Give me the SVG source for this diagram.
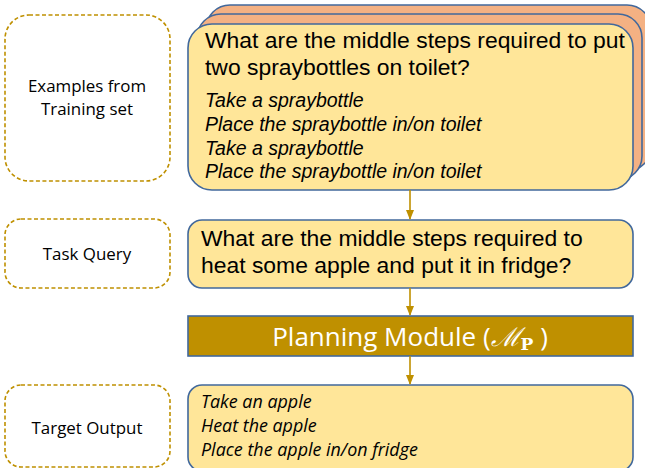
<svg xmlns="http://www.w3.org/2000/svg" width="645" height="468" viewBox="0 0 645 468">
<style>
.lbl{fill:none;stroke:#BF9000;stroke-width:1.6;stroke-dasharray:4 2.5}
.lt{font-family:"Open Sans","Noto Sans",sans-serif;font-size:16.9px;fill:#000;text-anchor:middle}
.box{fill:#FFE699;stroke:#41689C;stroke-width:1.6}
.back{fill:#F4B183;stroke:#41689C;stroke-width:1.6}
.q{font-family:"Liberation Sans",Arial,sans-serif;font-size:22.9px;fill:#000}
.it{font-family:"Liberation Sans",Arial,sans-serif;font-size:19.5px;font-style:italic;fill:#000}
.ci{font-family:"Open Sans","Noto Sans",sans-serif;font-size:17.9px;font-style:italic;fill:#000}
.conn{stroke:#BF9000;stroke-width:1.6;fill:none}
</style>
<defs>
<marker id="ah" markerWidth="10" markerHeight="8" refX="9" refY="4" orient="auto" markerUnits="userSpaceOnUse">
<path d="M0,0 L10,4 L0,8 Z" fill="#BF9000"/>
</marker>
</defs>
<g id="label-examples">
<rect class="lbl" x="5" y="15" width="165" height="166" rx="24"/>
<text class="lt" x="87" y="92">Examples from</text>
<text class="lt" x="87" y="115">Training set</text>
</g>
<g id="label-task">
<rect class="lbl" x="5" y="219" width="165" height="69" rx="16"/>
<text class="lt" x="87" y="260">Task Query</text>
</g>
<g id="label-target">
<rect class="lbl" x="5" y="385" width="165" height="82" rx="16"/>
<text class="lt" x="87" y="434">Target Output</text>
</g>
<g id="examples">
<rect class="back" x="206" y="5" width="445" height="166" rx="24"/>
<rect class="back" x="197" y="14" width="445" height="166" rx="24"/>
<rect class="box" x="188" y="24" width="445" height="166" rx="24"/>
<text class="q" x="205" y="48">What are the middle steps required to put</text>
<text class="q" x="205" y="75">two spraybottles on toilet?</text>
<text class="it" x="205" y="107">Take a spraybottle</text>
<text class="it" x="205" y="131">Place the spraybottle in/on toilet</text>
<text class="it" x="205" y="155">Take a spraybottle</text>
<text class="it" x="205" y="178">Place the spraybottle in/on toilet</text>
</g>
<g id="task">
<rect class="box" x="188" y="220" width="445" height="68" rx="14"/>
<text class="q" x="201" y="246">What are the middle steps required to</text>
<text class="q" x="201" y="273">heat some apple and put it in fridge?</text>
</g>
<g id="planning">
<rect x="188" y="316" width="445" height="40" fill="#BF9000" stroke="#41689C" stroke-width="1.6"/>
<text x="410" y="346" text-anchor="middle" font-family="'Open Sans','Noto Sans',sans-serif" font-size="26" fill="#FFFFFF">Planning Module (<tspan font-family="'DejaVu Serif',serif" font-style="italic">ℳ</tspan><tspan font-family="'DejaVu Serif',serif" font-weight="bold" font-size="17" dy="4">P</tspan><tspan dy="-4"> )</tspan></text>
</g>
<g id="target">
<rect class="box" x="188" y="385" width="445" height="86" rx="14"/>
<text class="ci" x="201" y="408">Take an apple</text>
<text class="ci" x="201" y="432">Heat the apple</text>
<text class="ci" x="201" y="456">Place the apple in/on fridge</text>
</g>
<g id="connectors">
<line class="conn" x1="410" y1="190" x2="410" y2="219" marker-end="url(#ah)"/>
<line class="conn" x1="410" y1="288" x2="410" y2="315" marker-end="url(#ah)"/>
<line class="conn" x1="410" y1="356" x2="410" y2="384" marker-end="url(#ah)"/>
</g>
</svg>
